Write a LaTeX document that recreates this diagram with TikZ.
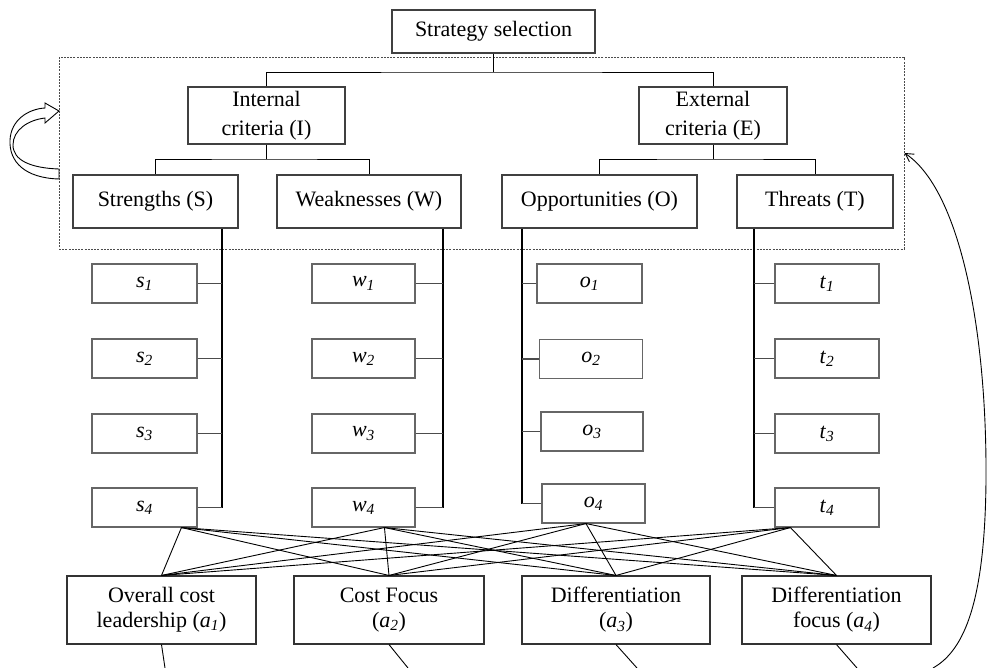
\documentclass[tikz,border=0pt]{standalone}
\usepackage{fontspec}
\setmainfont{Liberation Serif}
\usetikzlibrary{arrows.meta,calc}
\newcommand{\sub}[2]{\textit{#1}\textsubscript{\textit{#2}}}
\begin{document}
\begin{tikzpicture}[x=1pt,y=-1pt,
  txt/.style={inner sep=0pt, align=center, font=\fontsize{22}{29}\selectfont},
  bigbox/.style={txt, draw=black!75, line width=1.1pt},
  smallbox/.style={txt, draw=black!60, line width=1.1pt, minimum width=104pt, minimum height=39pt},
  altbox/.style={txt, draw=black!80, line width=1.1pt, minimum width=189pt, minimum height=68pt, font=\fontsize{22}{25}\selectfont},
  tree/.style={draw=black, line width=1pt},
  vline/.style={draw=black, line width=1.8pt},
  hline/.style={draw=black!70, line width=1.3pt},
  cross/.style={draw=black, line width=0.9pt},
  frame/.style={draw=black!70, line width=1pt, dash pattern=on 2pt off 1.2pt, inner sep=0pt}]
\useasboundingbox (0,0) rectangle (988,667);
\clip (0,0) rectangle (988,667);

% dashed frame
\node[frame, minimum width=845pt, minimum height=192pt] (fr) at (481.5,153) {};

% top levels
\node[bigbox, minimum width=203pt, minimum height=43pt] (sel) at (493.5,31.5) {Strategy selection};
\node[bigbox, minimum width=157pt, minimum height=57pt] (int) at (266.5,115.5) {Internal\\criteria (I)};
\node[bigbox, minimum width=148pt, minimum height=57pt] (ext) at (713,115.5) {External\\criteria (E)};
\node[bigbox, minimum width=165pt, minimum height=53pt] (S) at (155.5,201.5) {Strengths (S)};
\node[bigbox, minimum width=184pt, minimum height=53pt] (W) at (369,201.5) {Weaknesses (W)};
\node[bigbox, minimum width=195pt, minimum height=53pt] (O) at (599.5,201.5) {Opportunities (O)};
\node[bigbox, minimum width=156pt, minimum height=53pt] (T) at (815,201.5) {Threats (T)};

\coordinate (j1) at (493.5,72);
\coordinate (j2) at (266.5,159);
\coordinate (j3) at (713,159);
\draw[tree] (sel.south) -- (j1);
\draw[tree] (int.north) |- (j1) -| (ext.north);
\draw[tree] (int.south) -- (j2);
\draw[tree] (S.north) |- (j2) -| (W.north);
\draw[tree] (ext.south) -- (j3);
\draw[tree] (O.north) |- (j3) -| (T.north);

% sub-criteria
\foreach \i/\y in {1/283.5,2/358.5,3/433.5,4/507.5}{
  \node[smallbox, minimum width=105pt] (s\i) at (144.5,\y) {\sub{s}{\i}};
  \node[smallbox, minimum width=103pt] (w\i) at (363.5,\y) {\sub{w}{\i}};
  \node[smallbox, minimum width=104pt] (t\i) at (827,\y) {\sub{t}{\i}};
}
\node[smallbox, minimum width=105pt] (o1) at (589.5,283.5) {\sub{o}{1}};
\node[smallbox, minimum width=103pt] (o2) at (591,359) {\sub{o}{2}};
\node[smallbox, minimum width=102pt] (o3) at (592,431.5) {\sub{o}{3}};
\node[smallbox, minimum width=103pt] (o4) at (593.5,503.5) {\sub{o}{4}};

\coordinate (sx) at (222,0);
\coordinate (wx) at (443,0);
\coordinate (ox) at (522,0);
\coordinate (tx) at (754,0);
\draw[vline] (S.south -| sx) -- (sx |- s4.east);
\draw[vline] (W.south -| wx) -- (wx |- w4.east);
\draw[vline, line width=1.4pt] (O.south -| ox) -- (ox |- o4.west);
\draw[vline, line width=1.4pt] (T.south -| tx) -- (tx |- t4.west);
\foreach \i in {1,2,3,4}{
  \draw[hline] (s\i.east) -- (s\i.east -| sx);
  \draw[hline] (w\i.east) -- (w\i.east -| wx);
  \draw[hline] (o\i.west) -- (o\i.west -| ox);
  \draw[hline] (t\i.west) -- (t\i.west -| tx);
}

% alternatives
\node[altbox] (a1) at (161.5,610) {Overall cost\\leadership (\sub{a}{1})};
\node[altbox, minimum width=190pt] (a2) at (389,610) {Cost Focus\\(\sub{a}{2})};
\node[altbox, minimum width=188pt] (a3) at (616,610) {Differentiation\\(\sub{a}{3})};
\node[altbox] (a4) at (836.5,610) {Differentiation\\focus (\sub{a}{4})};

\coordinate (ps) at ($(s4.south west)+(90,0)$);
\coordinate (pw) at ($(w4.south west)+(73,0)$);
\coordinate (po) at ($(o4.south west)+(44.5,0)$);
\coordinate (pt) at ($(t4.south west)+(16,0)$);
\foreach \p in {ps,pw,po,pt}{
  \foreach \a in {a1,a2,a3,a4}{
    \draw[cross] (\p) -- (\a.north);
  }
}

% lines leaving the bottom edge
\coordinate (b1) at (165,668);
\coordinate (b2) at (408,668);
\coordinate (b3) at (637,668);
\coordinate (b4) at (857,668);
\draw[cross] (a1.south) -- (b1);
\draw[cross] (a2.south) -- (b2);
\draw[cross] (a3.south) -- (b3);
\draw[cross] (a4.south) -- (b4);

% feedback curve on the right
\coordinate (rc) at (933,668);
\draw[line width=0.9pt, -{Straight Barb[length=8pt,width=9pt]}] (rc) .. controls (965,650) and (985,600) .. (986,480) .. controls (987,330) and (960,190) .. (fr.east);

% block arrow on the left
\draw[line width=0.9pt, fill=white] (59,179) .. controls (25,178) and (9,162) .. (10,140) .. controls (11,120) and (28,109) .. (45,108) -- (45,103) -- (59,111) -- (45,123) -- (45,118) .. controls (28,120) and (13,130) .. (13,145) .. controls (13,160) and (30,168) .. (59,169) -- cycle;
\end{tikzpicture}
\end{document}
